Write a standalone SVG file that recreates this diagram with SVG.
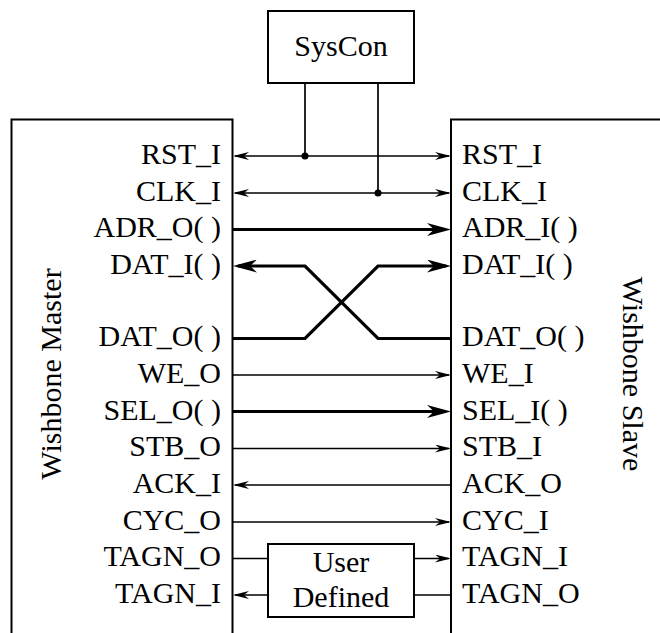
<svg xmlns="http://www.w3.org/2000/svg" width="660" height="633" viewBox="0 0 660 633">
<style>
text{font-family:"Liberation Serif","Times New Roman",serif;font-size:30px;fill:#000}
.m{text-anchor:end}
.s{text-anchor:start}
.c{text-anchor:middle}
.box{fill:none;stroke:#000;stroke-width:2}
.w{fill:none;stroke:#000;stroke-width:1.7}
.b{fill:none;stroke:#000;stroke-width:3.2}
</style>
<defs>
<marker id="a" viewBox="0 0 16 8" refX="14" refY="4" markerWidth="16" markerHeight="8" markerUnits="userSpaceOnUse" orient="auto-start-reverse">
<path d="M0,0 L16,4 L0,8 L5,4 Z" fill="#000"/>
</marker>
<marker id="A" viewBox="0 0 24 13" refX="19" refY="6.5" markerWidth="24" markerHeight="13" markerUnits="userSpaceOnUse" orient="auto-start-reverse">
<path d="M0,0 L24,6.5 L0,13 L7,6.5 Z" fill="#000"/>
</marker>
</defs>

<g id="syscon">
<rect class="box" x="268" y="11" width="146" height="72"/>
<text class="c" x="341" y="56">SysCon</text>
</g>

<g id="master">
<path class="box" d="M11.5,634 V119.5 H232.5 V634"/>
<text transform="translate(61,374) rotate(-90)" class="c">Wishbone Master</text>
<text class="m" x="221" y="164">RST_I</text>
<text class="m" x="221" y="201">CLK_I</text>
<text class="m" x="221" y="237">ADR_O( )</text>
<text class="m" x="221" y="274">DAT_I( )</text>
<text class="m" x="221" y="346">DAT_O( )</text>
<text class="m" x="221" y="383">WE_O</text>
<text class="m" x="221" y="420">SEL_O( )</text>
<text class="m" x="221" y="456">STB_O</text>
<text class="m" x="221" y="493">ACK_I</text>
<text class="m" x="221" y="530">CYC_O</text>
<text class="m" x="221" y="566">TAGN_O</text>
<text class="m" x="221" y="603">TAGN_I</text>
</g>

<g id="slave">
<path class="box" d="M451,634 V119.5 H661"/>
<text transform="translate(623,374) rotate(90)" class="c">Wishbone Slave</text>
<text class="s" x="462" y="164">RST_I</text>
<text class="s" x="462" y="201">CLK_I</text>
<text class="s" x="462" y="237">ADR_I( )</text>
<text class="s" x="462" y="274">DAT_I( )</text>
<text class="s" x="462" y="346">DAT_O( )</text>
<text class="s" x="462" y="383">WE_I</text>
<text class="s" x="462" y="420">SEL_I( )</text>
<text class="s" x="462" y="456">STB_I</text>
<text class="s" x="462" y="493">ACK_O</text>
<text class="s" x="462" y="530">CYC_I</text>
<text class="s" x="462" y="566">TAGN_I</text>
<text class="s" x="462" y="603">TAGN_O</text>
</g>

<g id="userdef">
<rect class="box" x="268" y="544" width="146" height="73"/>
<text class="c" x="341" y="572">User</text>
<text class="c" x="341" y="607">Defined</text>
</g>

<g id="connectors">
<path class="w" d="M305,83 V156"/>
<path class="w" d="M378,83 V193"/>
<circle cx="305" cy="156" r="3.5" fill="#000"/>
<circle cx="378" cy="193" r="3.5" fill="#000"/>
<path class="w" d="M235,156 H449" marker-start="url(#a)" marker-end="url(#a)"/>
<path class="w" d="M235,193 H449" marker-start="url(#a)" marker-end="url(#a)"/>
<path class="b" d="M233,229.5 H446" marker-end="url(#A)"/>
<path class="b" d="M451,338.5 H378 L305,266 H238" marker-end="url(#A)"/>
<path class="b" d="M233,338.5 H305 L378,266 H446" marker-end="url(#A)"/>
<path class="w" d="M233,375 H449" marker-end="url(#a)"/>
<path class="b" d="M233,411.5 H446" marker-end="url(#A)"/>
<path class="w" d="M233,448.5 H449" marker-end="url(#a)"/>
<path class="w" d="M451,485 H235" marker-end="url(#a)"/>
<path class="w" d="M233,522 H449" marker-end="url(#a)"/>
<path class="w" d="M233,558.5 H268"/>
<path class="w" d="M414,558.5 H449" marker-end="url(#a)"/>
<path class="w" d="M451,595 H414"/>
<path class="w" d="M268,595 H235" marker-end="url(#a)"/>
</g>
</svg>
